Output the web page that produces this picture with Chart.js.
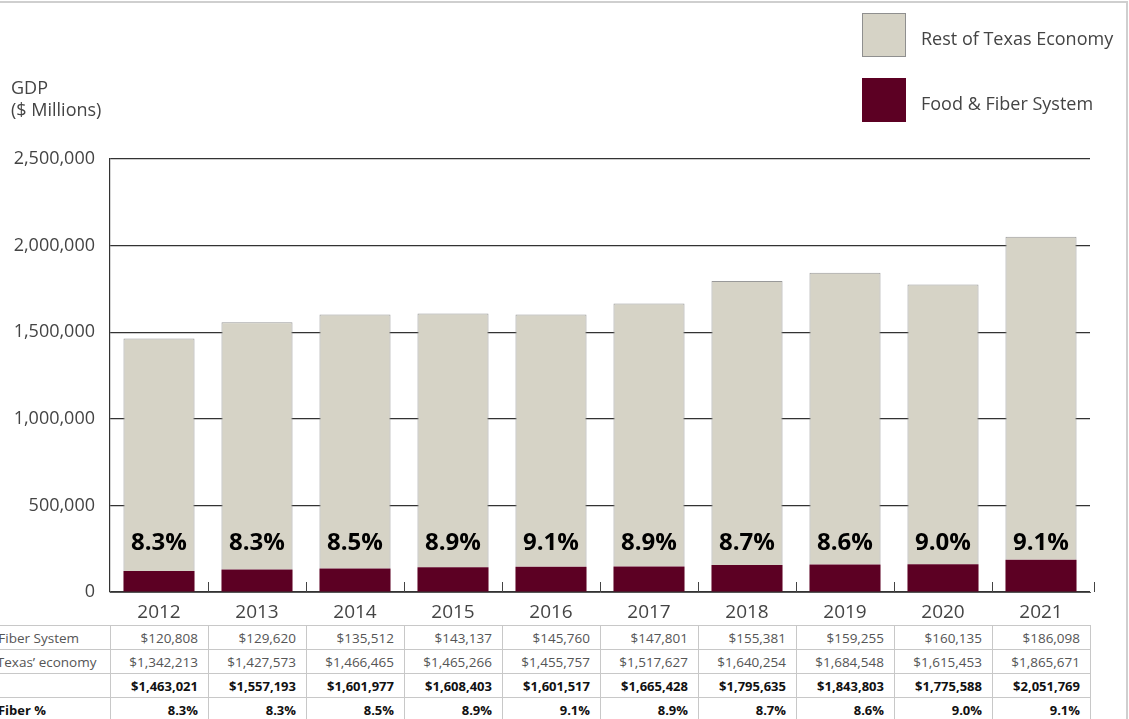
<!DOCTYPE html>
<html>
<head>
<meta charset="utf-8">
<script src="https://cdn.jsdelivr.net/npm/chart.js@4.4.1/dist/chart.umd.min.js"></script>
<style>
  html, body { margin: 0; padding: 0; background: #fff; overflow: hidden; }
  body { width: 1129px; height: 719px; position: relative; font-family: "Open Sans", sans-serif; }
  #frame { position: absolute; left: -10px; top: 1px; width: 1136px; height: 730px;
           border-top: 2px solid #cfcfcf; border-right: 2px solid #cfcfcf; }
  #wrap { position: absolute; left: 0; top: 0; width: 1129px; height: 625px; }
  #ylabel { position: absolute; left: 11px; top: 76px; font-size: 18px; line-height: 22px;
            color: #444; }
  .leg { position: absolute; left: 862px; width: 44px; height: 44px; box-sizing: border-box; }
  .legtxt { position: absolute; left: 921px; font-size: 18px; color: #444; line-height: 24px; }
  table { position: absolute; left: -66px; top: 625px; width: 1156px; border-collapse: collapse;
          table-layout: fixed; font-size: 13.5px; }
  td { border: 1px solid #c8c8c8; height: 23px; padding: 0 10px 0 8px; text-align: right;
       white-space: nowrap; overflow: hidden; color: #555; }
  td.lab { text-align: left; padding-left: 15px; }
  tr.bold td { color: #111; font-weight: 700; font-size: 13px; }
</style>
</head>
<body>
<div id="frame"></div>
<div id="wrap"><canvas id="chart" width="1129" height="625"></canvas></div>
<div id="ylabel">GDP<br>($ Millions)</div>
<div id="legend"></div>
<table id="tbl"></table>
<script>
const years = ["2012","2013","2014","2015","2016","2017","2018","2019","2020","2021"];
const foodFiber = [120808, 129620, 135512, 143137, 145760, 147801, 155381, 159255, 160135, 186098];
const restTexas = [1342213, 1427573, 1466465, 1465266, 1455757, 1517627, 1640254, 1684548, 1615453, 1865671];
const totals = [1463021, 1557193, 1601977, 1608403, 1601517, 1665428, 1795635, 1843803, 1775588, 2051769];
const shares = ["8.3%","8.3%","8.5%","8.9%","9.1%","8.9%","8.7%","8.6%","9.0%","9.1%"];
const yTicks = [0, 500000, 1000000, 1500000, 2000000, 2500000];

const MAROON = "#5c0023";
const STONE = "#d6d3c6";

const fmt = v => v.toLocaleString("en-US");
const money = v => "$" + fmt(v);

// legend (drawn as html, top-right)
const legendItems = [
    { label: "Rest of Texas Economy", color: STONE, border: "#8f8f8f", top: 13 },
    { label: "Food & Fiber System", color: MAROON, border: MAROON, top: 78 }
];
const legendEl = document.getElementById("legend");
legendItems.forEach(it => {
    const sq = document.createElement("div");
    sq.className = "leg";
    sq.style.top = it.top + "px";
    sq.style.background = it.color;
    sq.style.border = "1px solid " + it.border;
    legendEl.appendChild(sq);
    const tx = document.createElement("div");
    tx.className = "legtxt";
    tx.style.top = (it.top + 13) + "px";
    tx.textContent = it.label;
    legendEl.appendChild(tx);
});

// data table under the chart
const rows = [
    { label: "Food & Fiber System", vals: foodFiber.map(money), bold: false },
    { label: "Rest of Texas\u2019 economy", vals: restTexas.map(money), bold: false },
    { label: "Total", vals: totals.map(money), bold: true },
    { label: "Food & Fiber %", vals: shares, bold: true }
];
const tbl = document.getElementById("tbl");
const cg = document.createElement("colgroup");
let c0 = document.createElement("col"); c0.style.width = "176px"; cg.appendChild(c0);
years.forEach(() => { const c = document.createElement("col"); c.style.width = "98px"; cg.appendChild(c); });
tbl.appendChild(cg);
rows.forEach(r => {
    const tr = document.createElement("tr");
    if (r.bold) tr.className = "bold";
    const th = document.createElement("td");
    th.className = "lab";
    th.textContent = r.label;
    tr.appendChild(th);
    r.vals.forEach(v => {
        const td = document.createElement("td");
        td.textContent = v;
        tr.appendChild(td);
    });
    tbl.appendChild(tr);
});

// share labels above the maroon segment + small ticks between categories
const extras = {
    id: "extras",
    afterDatasetsDraw(chart) {
        const ctx = chart.ctx;
        const x = chart.scales.x, y = chart.scales.y;
        const base = y.getPixelForValue(0);
        ctx.save();
        ctx.strokeStyle = "#444";
        ctx.lineWidth = 1;
        for (let i = 0; i < years.length; i++) {
            const right = i < years.length - 1
                ? (x.getPixelForValue(i) + x.getPixelForValue(i + 1)) / 2
                : chart.chartArea.right + 4;
            ctx.beginPath();
            ctx.moveTo(Math.round(right) + 0.5, base);
            ctx.lineTo(Math.round(right) + 0.5, base - 10);
            ctx.stroke();
        }
        ctx.fillStyle = "#000";
        ctx.font = "bold 24px 'Open Sans'";
        ctx.textAlign = "center";
        ctx.textBaseline = "middle";
        shares.forEach((s, i) => {
            ctx.fillText(s, x.getPixelForValue(i), base - 49);
        });
        ctx.restore();
    }
};

const ctx = document.getElementById("chart").getContext("2d");
const chart = new Chart(ctx, {
    type: "bar",
    data: {
        labels: years,
        datasets: [
            {
                label: "Food & Fiber System",
                data: foodFiber,
                backgroundColor: MAROON,
                borderColor: MAROON,
                borderWidth: 0,
                barPercentage: 0.725,
                categoryPercentage: 1
            },
            {
                label: "Rest of Texas Economy",
                data: restTexas,
                backgroundColor: STONE,
                borderColor: "#999",
                borderWidth: 1,
                borderSkipped: "bottom",
                barPercentage: 0.725,
                categoryPercentage: 1
            }
        ]
    },
    options: {
        responsive: false,
        animation: false,
        devicePixelRatio: 1,
        layout: { padding: { top: 159, right: 39, left: 0, bottom: 0 } },
        plugins: {
            legend: { display: false },
            tooltip: { enabled: false }
        },
        scales: {
            x: {
                stacked: true,
                grid: { display: false },
                border: { display: true, color: "#555", width: 1 },
                ticks: {
                    color: "#444",
                    padding: 1,
                    font: { family: "'Open Sans'", size: 19 }
                },
                afterFit(scale) {
                    scale.height = 33;
                    scale.paddingLeft = 0;
                    scale.paddingRight = 0;
                }
            },
            y: {
                stacked: true,
                min: 0,
                max: 2500000,
                afterBuildTicks(scale) {
                    scale.ticks = yTicks.map(v => ({ value: v }));
                },
                grid: { color: "#333", lineWidth: 1.2, drawTicks: false },
                border: { display: true, color: "#333", width: 1.2 },
                ticks: {
                    color: "#444",
                    padding: 15,
                    font: { family: "'Open Sans'", size: 18 },
                    callback: v => fmt(v)
                },
                afterFit(scale) {
                    scale.width = 110;
                    scale.paddingTop = 0;
                    scale.paddingBottom = 0;
                }
            }
        }
    },
    plugins: [extras]
});
</script>
</body>
</html>
